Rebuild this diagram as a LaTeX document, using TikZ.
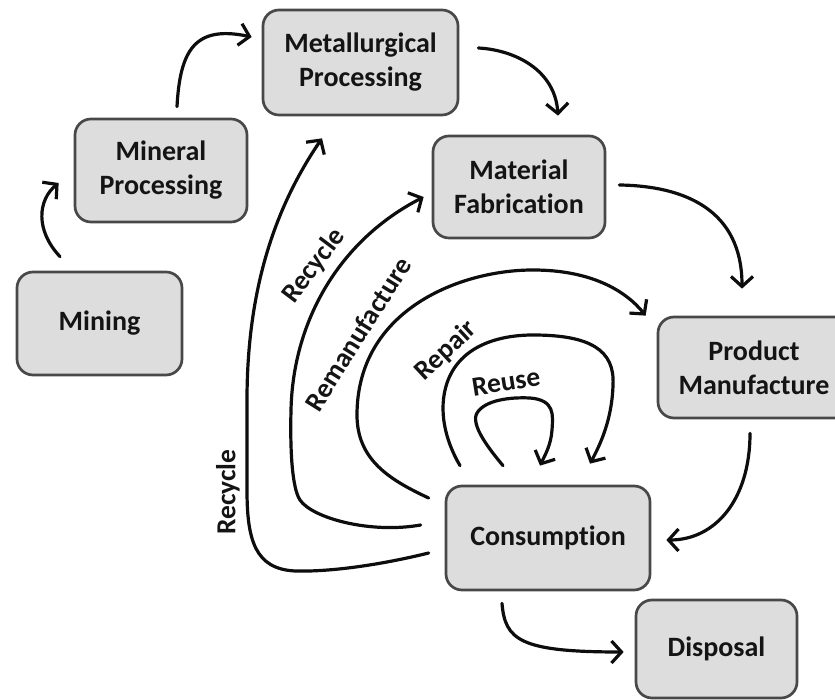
\documentclass[tikz,border=0pt]{standalone}
\usepackage{fontspec}
\setmainfont{Carlito}[Ligatures=NoCommon]
\usetikzlibrary{arrows.meta,calc}
\definecolor{boxfill}{HTML}{DDDDDD}
\definecolor{boxline}{HTML}{484848}
\definecolor{linec}{HTML}{0D0D0D}
\definecolor{textc}{HTML}{141414}
\begin{document}
\begin{tikzpicture}[x=1bp,y=1bp,
  box/.style={draw=boxline, fill=boxfill, line width=2.7bp, rounded corners=16bp,
    align=center, inner sep=0pt, text=textc,
    font=\fontsize{28bp}{34bp}\selectfont\bfseries},
  flow/.style={line width=3.2bp, draw=linec, line cap=round,
    -{Straight Barb[length=10bp,width=22bp]}},
  lab/.style={inner sep=0pt, text=textc, font=\fontsize{27.5bp}{30bp}\selectfont\bfseries}]
\useasboundingbox (0,0) rectangle (835,700);

% boxes
\node[box, minimum width=195bp, minimum height=105bp] (metal) at (360.5,637.5) {Metallurgical\\Processing};
\node[box, minimum width=172bp, minimum height=103bp] (mineral) at (161,529.5) {Mineral\\Processing};
\node[box, minimum width=165bp, minimum height=103bp] (mining) at (99.5,376.5) {Mining};
\node[box, minimum width=172bp, minimum height=102bp] (fab) at (519,513) {Material\\Fabrication};
\node[box, minimum width=192bp, minimum height=101bp] (prod) at (754,332.5) {Product\\Manufacture};
\node[box, minimum width=204bp, minimum height=104bp] (cons) at (548,162) {Consumption};
\node[box, minimum width=161bp, minimum height=98bp] (disp) at (716.5,51) {Disposal};

% main chain
\draw[flow] ($(mining.north)+(-39.5,14)$) .. controls (35,470) and (38,500) .. ($(mineral.west)+(-15,-12.5)$);
\draw[flow] ($(mineral.north)+(16,11)$) .. controls (180,650) and (195,675) .. ($(metal.west)+(-10,25.5)$);
\draw[flow] ($(metal.east)+(19,14.5)$) .. controls (515,650) and (555,630) .. ($(fab.north)+(39,19)$);
\draw[flow] ($(fab.east)+(13,2)$) .. controls (685,514) and (742,490) .. ($(prod.north)+(-12,27)$);
\draw[flow] ($(prod.south)+(-4,-14)$) .. controls (750,200) and (715,160) .. ($(cons.east)+(15,-2)$);
\draw[flow] ($(cons.south)+(-46,-12)$) .. controls (505,60) and (520,48) .. ($(disp.west)+(-11,-3)$);

% loops
\draw[flow] ($(cons.west)+(-16,-15)$) .. controls (380,135) and (330,128) .. (295,129)
  .. controls (255,131) and (247,160) .. (247,210) -- (247,300)
  .. controls (247,420) and (280,500) .. ($(metal.south)+(-38.5,-22)$);
\draw[flow] ($(cons.west)+(-24,13)$) .. controls (370,166) and (312,182) .. (300,200)
  .. controls (292,212) and (290,250) .. (291,290)
  .. controls (293,380) and (340,460) .. ($(fab.west)+(-8,-10)$);
\draw[flow] ($(cons.west)+(-16,40)$) .. controls (390,220) and (357,240) .. (357,285)
  .. controls (357,390) and (460,430) .. (533,430)
  .. controls (590,430) and (625,410) .. ($(prod.north west)+(-11,0)$);
\draw[flow] ($(cons.north)+(-88,19)$) .. controls (445,260) and (438,290) .. (447,317)
  .. controls (460,355) and (500,365) .. (533,365)
  .. controls (590,365) and (615,350) .. (613,315)
  .. controls (612,280) and (600,255) .. ($(cons.north)+(42,21)$);
\draw[flow] ($(cons.north)+(-45,19)$) .. controls (490,250) and (470,275) .. (477,287)
  .. controls (485,300) and (510,303) .. (530,302)
  .. controls (555,300) and (553,285) .. (552,270)
  .. controls (551,255) and (545,245) .. ($(cons.north)+(-8,19)$);

% labels
\node[lab, rotate=90] (lrec1) at (228,208) {Recycle};
\node[lab, rotate=53] (lrec2) at (314,434) {Recycle};
\node[lab, rotate=58] (lreman) at (358,366) {Remanufacture};
\node[lab, rotate=43] (lrep) at (446,349) {Repair};
\node[lab, rotate=9] (lreuse) at (506,318) {Reuse};
\end{tikzpicture}
\end{document}
